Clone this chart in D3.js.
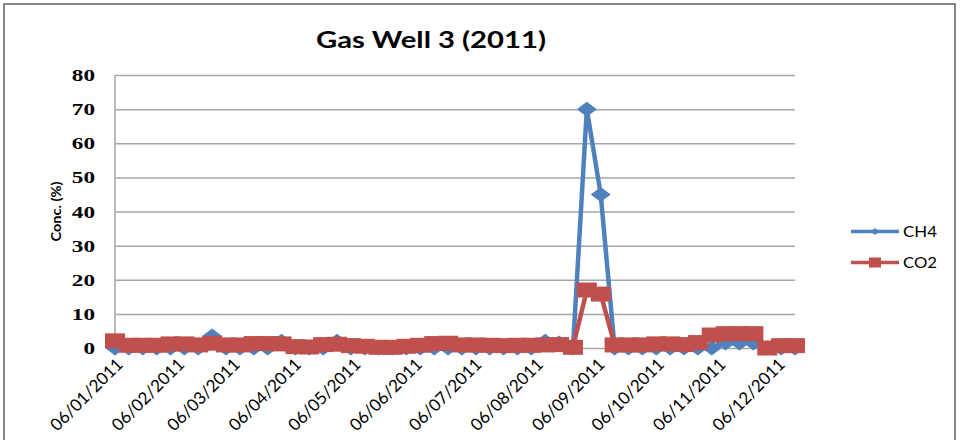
<!DOCTYPE html>
<html>
<head>
<meta charset="utf-8">
<script src="https://cdn.jsdelivr.net/npm/d3@7"></script>
<style>
  html, body { margin: 0; padding: 0; background: #fff; }
  svg { display: block; }
</style>
</head>
<body>
<svg id="chart" width="960" height="440"></svg>
<script>
// ---- data ----
const title = "Gas Well 3 (2011)";
const yTitle = "Conc. (%)";
const dates = [
  "06/01/2011","13/01/2011","20/01/2011","27/01/2011",
  "03/02/2011","10/02/2011","17/02/2011","24/02/2011",
  "03/03/2011","10/03/2011","17/03/2011","24/03/2011","31/03/2011",
  "07/04/2011","14/04/2011","21/04/2011","28/04/2011",
  "05/05/2011","12/05/2011","19/05/2011","26/05/2011",
  "02/06/2011","09/06/2011","16/06/2011","23/06/2011","30/06/2011",
  "07/07/2011","14/07/2011","21/07/2011","28/07/2011",
  "04/08/2011","11/08/2011","18/08/2011","25/08/2011",
  "01/09/2011","08/09/2011","15/09/2011","22/09/2011","29/09/2011",
  "06/10/2011","13/10/2011","20/10/2011","27/10/2011",
  "03/11/2011","10/11/2011","17/11/2011","24/11/2011",
  "01/12/2011","08/12/2011","15/12/2011"
];
const ch4 = [0,0,0,0,0,0,0,3.5,0,0,0,0,2,0,0,0,2,0,0,0,0,0,0,0,0,0,0,0,0,0,0,2,1.5,0,70,45,0,0,0,0,0,0,0,0,1.5,1.5,1.5,0,0,0];
const co2 = [2.1,0.8,0.8,0.8,1.2,1.2,0.9,1.4,0.9,0.9,
             1.3,1.3,1.2,0.4,0.3,1.0,1.1,0.7,0.5,0.2,
             0.2,0.5,0.8,1.3,1.4,0.9,0.9,0.8,0.7,0.8,
             0.8,0.9,1.0,0.2,17,15.8,0.9,0.9,0.9,1.2,
             1.2,1.0,1.6,3.8,4.2,4.2,4.2,0,0.7,0.7];
const xTickLabels = ["06/01/2011","06/02/2011","06/03/2011","06/04/2011","06/05/2011","06/06/2011",
                     "06/07/2011","06/08/2011","06/09/2011","06/10/2011","06/11/2011","06/12/2011"];
const yTicks = [0,10,20,30,40,50,60,70,80];
const seriesNames = ["CH4","CO2"];
const colors = ["#4F81BD","#C0504D"];

// ---- layout ----
const parse = d3.timeParse("%d/%m/%Y");
const svg = d3.select("#chart");
const plot = {left:115, right:795, top:75, bottom:348};

const x = d3.scaleTime()
  .domain([parse(dates[0]), parse(dates[dates.length-1])])
  .range([plot.left, plot.right]);
const y = d3.scaleLinear().domain([0,80]).range([plot.bottom, plot.top]);

// outer border
svg.append("rect").attr("x",4).attr("y",4).attr("width",951).attr("height",450)
  .attr("fill","#fff").attr("stroke","#868686").attr("stroke-width",2);

// title
svg.append("text").attr("x",431).attr("y",48).attr("text-anchor","middle")
  .attr("font-family","Lato, 'Open Sans', sans-serif").attr("font-weight","bold")
  .attr("font-size",22).attr("fill","#000")
  .attr("textLength",230).attr("lengthAdjust","spacingAndGlyphs")
  .text(title);

// gridlines + y tick labels
const yAxis = d3.axisLeft(y).tickValues(yTicks).tickSize(-(plot.right-plot.left)).tickPadding(20).tickFormat(d3.format("d"));
const gy = svg.append("g").attr("transform",`translate(${plot.left},0)`).call(yAxis);
gy.select(".domain").remove();
gy.selectAll(".tick line").attr("stroke","#a6a6a6").attr("stroke-width",1.5);
gy.selectAll(".tick text")
  .attr("font-family","'Liberation Serif', 'Times New Roman', serif")
  .attr("font-weight","bold").attr("font-size",16).attr("fill","#000")
  .attr("x",0).attr("dy","0.35em")
  .attr("transform","translate(-20,0) scale(1.45,1)");

// y axis line
svg.append("line").attr("x1",plot.left).attr("x2",plot.left)
  .attr("y1",plot.top).attr("y2",plot.bottom)
  .attr("stroke","#a6a6a6").attr("stroke-width",1.5);

// y axis title
svg.append("text")
  .attr("transform",`translate(61,${(plot.top+plot.bottom)/2}) rotate(-90)`)
  .attr("text-anchor","middle")
  .attr("font-family","Lato, sans-serif").attr("font-weight","bold")
  .attr("font-size",14).attr("fill","#000")
  .attr("textLength",60).attr("lengthAdjust","spacingAndGlyphs")
  .text(yTitle);

// x tick labels
const xAxis = d3.axisBottom(x).tickValues(xTickLabels.map(parse)).tickSize(0)
  .tickFormat((d,i)=>xTickLabels[i]);
const gx = svg.append("g").attr("transform",`translate(0,${plot.bottom})`).call(xAxis);
gx.select(".domain").remove();
gx.selectAll(".tick text")
  .attr("font-family","Lato, sans-serif").attr("font-size",17).attr("fill","#000")
  .attr("text-anchor","end")
  .attr("transform","translate(0,9) rotate(-45)")
  .attr("x",0).attr("y",0).attr("dy","0.7em");

// series
const data = [ch4, co2];
const line = d3.line().x((d,i)=>x(parse(dates[i]))).y(d=>y(d));

data.forEach((vals, s) => {
  const g = svg.append("g");
  g.append("path").datum(vals).attr("d",line)
    .attr("fill","none").attr("stroke",colors[s]).attr("stroke-width",4.5)
    .attr("stroke-linejoin","round");
  if (s === 0) {
    g.selectAll("path.m").data(vals).enter().append("path").attr("class","m")
      .attr("transform",(d,i)=>`translate(${x(parse(dates[i]))},${y(d)})`)
      .attr("d","M0,-7.5L10,0L0,7.5L-10,0Z")
      .attr("fill",colors[s]);
  } else {
    g.selectAll("rect.m").data(vals).enter().append("rect").attr("class","m")
      .attr("x",(d,i)=>x(parse(dates[i]))-10).attr("y",d=>y(d)-7.5)
      .attr("width",20).attr("height",15)
      .attr("fill",colors[s]);
  }
});

// legend
const legend = svg.append("g");
seriesNames.forEach((name, s) => {
  const ly = 231.5 + s*31;
  legend.append("line").attr("x1",851).attr("x2",899).attr("y1",ly).attr("y2",ly)
    .attr("stroke",colors[s]).attr("stroke-width",3.5);
  if (s === 0) {
    legend.append("path").attr("transform",`translate(875,${ly})`)
      .attr("d","M0,-3.5L4,0L0,3.5L-4,0Z").attr("fill",colors[s]);
  } else {
    legend.append("rect").attr("x",869).attr("y",ly-5).attr("width",12).attr("height",10)
      .attr("fill",colors[s]);
  }
  legend.append("text").attr("x",903).attr("y",ly+5)
    .attr("font-family","Lato, sans-serif").attr("font-size",15).attr("fill","#000")
    .attr("textLength",34).attr("lengthAdjust","spacingAndGlyphs")
    .text(name);
});
</script>
</body>
</html>
